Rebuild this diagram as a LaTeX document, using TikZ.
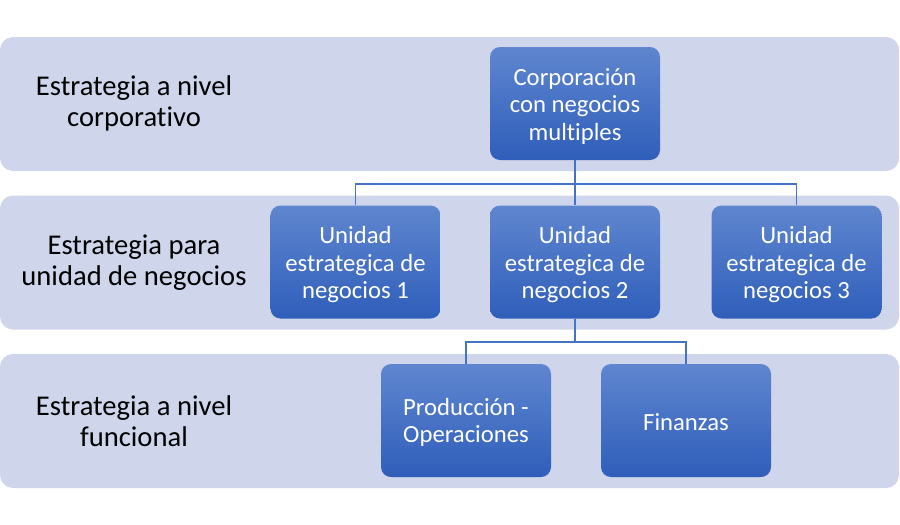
\documentclass[tikz,border=0pt]{standalone}
\usepackage{fontspec}
\setmainfont{Carlito}[Ligatures={NoCommon}]
\definecolor{bandfill}{HTML}{CFD5EA}
\definecolor{boxtop}{HTML}{5F86CF}
\definecolor{boxbot}{HTML}{2F5EBA}
\definecolor{connc}{HTML}{4472C4}
\begin{document}
\begin{tikzpicture}[x=1pt,y=-1pt,
  band/.style={fill=bandfill, rounded corners=13pt, minimum width=899pt, minimum height=134pt, inner sep=0pt},
  lbl/.style={align=center, text=black, font=\fontsize{28.6}{31}\selectfont, inner sep=0pt},
  ubox/.style={rounded corners=10pt, top color=boxtop, bottom color=boxbot, minimum width=170pt, minimum height=113pt, inner sep=0pt, align=center, text=white, font=\fontsize{24.7}{27.5}\selectfont},
  btxt/.style={align=center, text=white, font=\fontsize{24.7}{27.5}\selectfont, inner sep=0pt},
  conn/.style={draw=connc, line width=1.1pt}]
\useasboundingbox (0,0) rectangle (900,525);
% bands
\node[band] (b1) at (449.5,104) {};
\node[band] (b2) at (449.5,262.5) {};
\node[band] (b3) at (449.5,421) {};
% band labels
\node[lbl] (l1) at (134,103.5) {Estrategia a nivel\\corporativo};
\node[lbl] (l2) at (134,262.5) {Estrategia para\\unidad de negocios};
\node[lbl] (l3) at (134,421) {Estrategia a nivel\\funcional};
% connector junctions
\coordinate (j1) at (575,184);
\coordinate (j2) at (577,342);
% boxes
\node[ubox] (c) at (575,103.5) {};
\node[ubox] (u1) at (355.5,262) {};
\node[ubox] (u2) at (575,262) {};
\node[ubox] (u3) at (796.5,262) {};
\node[ubox] (f1) at (466,420.5) {};
\node[ubox] (f2) at (686,420.5) {};
% box texts
\node[btxt] (tc) at (575,106) {Corporación\\con negocios\\multiples};
\node[btxt] (t1) at (355.5,265) {Unidad\\estrategica de\\negocios 1};
\node[btxt] (t2) at (575,265) {Unidad\\estrategica de\\negocios 2};
\node[btxt] (t3) at (796.5,265) {Unidad\\estrategica de\\negocios 3};
\node[btxt] (tf1) at (466,422.5) {Producción -\\Operaciones};
\node[btxt] (tf2) at (686,422) {Finanzas};
% connectors
\draw[conn] (c.south) |- (u1.north |- j1) -- (u1.north);
\draw[conn] (c.south) |- (u3.north |- j1) -- (u3.north);
\draw[conn] (c.south) -- (u2.north);
\draw[conn] (u2.south) |- (f1.north |- j2) -- (f1.north);
\draw[conn] (u2.south) |- (f2.north |- j2) -- (f2.north);
\end{tikzpicture}
\end{document}
